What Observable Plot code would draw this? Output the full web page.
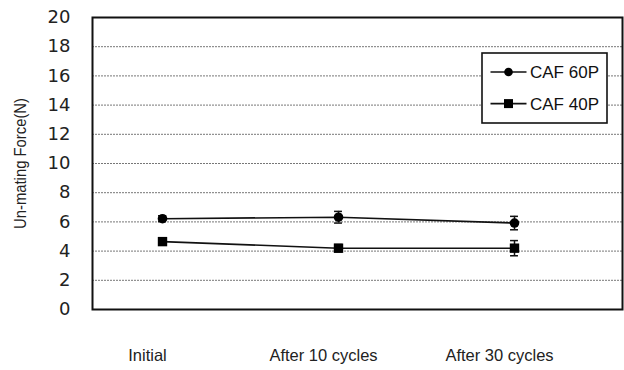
<!DOCTYPE html>
<html>
<head>
<meta charset="utf-8">
<script src="https://cdn.jsdelivr.net/npm/d3@7"></script>
<script src="https://cdn.jsdelivr.net/npm/@observablehq/plot@0.6"></script>
<style>
  html, body { margin: 0; padding: 0; background: #fff; }
  #chart svg { display: block; }
</style>
</head>
<body>
<div id="chart"></div>
<script>
// Test stages along the x axis
const stages = ["Initial", "After 10 cycles", "After 30 cycles"];

// Mean un-mating force (N) and error-bar half-widths per stage
const caf60 = [6.22, 6.32, 5.92];
const caf60Err = [0.2, 0.4, 0.46];
const caf40 = [4.65, 4.2, 4.2];
const caf40Err = [0.2, 0.25, 0.52];

const yTicks = [0, 2, 4, 6, 8, 10, 12, 14, 16, 18, 20];
const gridTicks = [2, 4, 6, 8, 10, 12, 14, 16, 18];
const seriesNames = ["CAF 60P", "CAF 40P"];
const yTitle = "Un-mating Force(N)";

const rows = [];
stages.forEach((s, i) => {
  rows.push({series: seriesNames[0], stage: s, value: caf60[i], err: caf60Err[i]});
  rows.push({series: seriesNames[1], stage: s, value: caf40[i], err: caf40Err[i]});
});

const W = 624, H = 370;
const mL = 92, mR = 2, mT = 17, mB = 61;
const xRange = [73.3, 603.3];
const band = (xRange[1] - xRange[0]) / stages.length;
const capHalf = 4.3;
const sansFont = "Liberation Sans, Arial, sans-serif";

const plot = Plot.plot({
  width: W,
  height: H,
  marginLeft: mL,
  marginRight: mR,
  marginTop: mT,
  marginBottom: mB,
  x: {type: "band", domain: stages, range: xRange, padding: 0},
  y: {domain: [0, 20]},
  marks: [
    Plot.gridY(gridTicks, {stroke: "#777", strokeOpacity: 1, strokeWidth: 1, strokeDasharray: "2,1"}),
    Plot.axisY(yTicks, {tickSize: 0, tickPadding: 22, fontSize: 18, fontFamily: "DejaVu Sans, Verdana, sans-serif", fill: "#222", label: null}),
    Plot.axisX({tickSize: 0, tickPadding: 40, fontSize: 16.5, fontFamily: sansFont, dx: -15, fill: "#222", label: null}),
    Plot.text([yTitle], {frameAnchor: "left", textAnchor: "middle", rotate: -90, dx: -72, fontSize: 17, fontFamily: sansFont, fill: "#222", className: "y-title"}),
    Plot.line(rows, {x: "stage", y: "value", z: "series", stroke: "#111", strokeWidth: 1.6}),
    Plot.ruleX(rows, {x: "stage", y1: d => d.value - d.err, y2: d => d.value + d.err, stroke: "#111", strokeWidth: 1.5}),
    Plot.tickY(rows, {x: "stage", y: d => d.value + d.err, stroke: "#111", strokeWidth: 1.5, insetLeft: band / 2 - capHalf, insetRight: band / 2 - capHalf}),
    Plot.tickY(rows, {x: "stage", y: d => d.value - d.err, stroke: "#111", strokeWidth: 1.5, insetLeft: band / 2 - capHalf, insetRight: band / 2 - capHalf}),
    Plot.dot(rows.filter(d => d.series === seriesNames[0]), {x: "stage", y: "value", symbol: "circle", r: 4.8, fill: "#000", stroke: "none"}),
    Plot.dot(rows.filter(d => d.series === seriesNames[1]), {x: "stage", y: "value", symbol: "square", r: 5.3, fill: "#000", stroke: "none"}),
    Plot.frame({stroke: "#111", strokeWidth: 2})
  ]
});

document.getElementById("chart").appendChild(plot);

const svg = d3.select(plot);

// Condense the axis title to a narrow face
svg.selectAll(".y-title text")
  .attr("textLength", 131)
  .attr("lengthAdjust", "spacingAndGlyphs");

// Boxed legend in the upper right of the plot area
const box = {x: W - mR - 140, y: mT + 36, w: 125, h: 70};
const lg = svg.append("g").attr("text-anchor", "start");
lg.append("rect")
  .attr("x", box.x).attr("y", box.y).attr("width", box.w).attr("height", box.h)
  .attr("fill", "#fff").attr("stroke", "#111").attr("stroke-width", 1.6);
const symbols = [d3.symbolCircle, d3.symbolSquare];
const sizes = [Math.PI * 4.3 * 4.3, 9 * 9];
seriesNames.forEach((name, i) => {
  const cy = box.y + 19 + i * 31.6;
  const x0 = box.x + 8.5;
  lg.append("line").attr("x1", x0).attr("x2", x0 + 36).attr("y1", cy).attr("y2", cy)
    .attr("stroke", "#111").attr("stroke-width", 1.6);
  lg.append("path").attr("d", d3.symbol(symbols[i], sizes[i])())
    .attr("transform", `translate(${x0 + 18},${cy})`).attr("fill", "#000");
  lg.append("text").attr("x", x0 + 39.5).attr("y", cy).attr("dy", "0.35em")
    .attr("text-anchor", "start")
    .attr("font-family", sansFont).attr("font-size", 17).attr("fill", "#111")
    .text(name);
});
</script>
</body>
</html>
